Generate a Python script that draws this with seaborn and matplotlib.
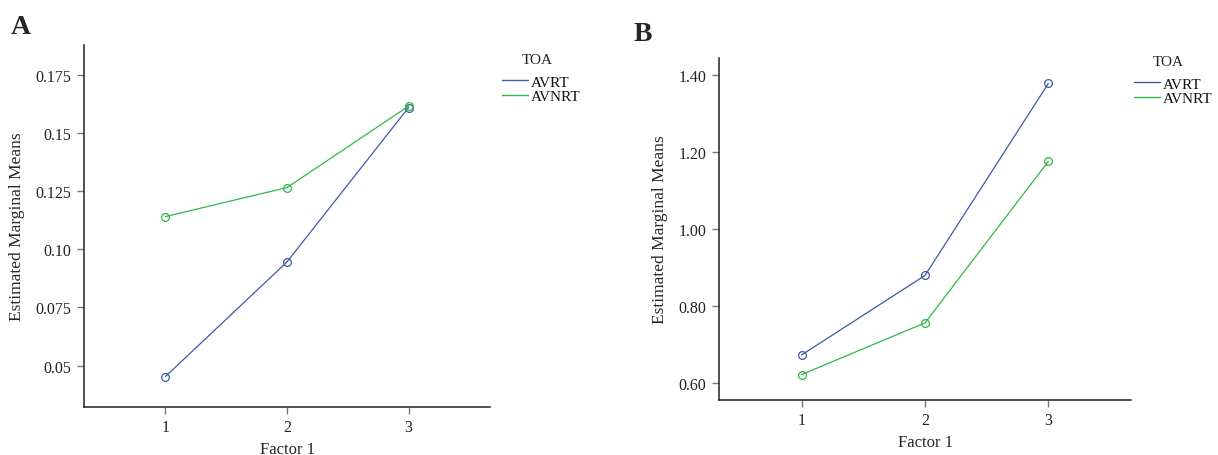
import matplotlib
matplotlib.use("Agg")
import matplotlib.pyplot as plt
from matplotlib.lines import Line2D
import seaborn as sns
import pandas as pd

# Estimated marginal means by Factor 1 level for each type of arrhythmia (TOA)
factor_levels = [1, 2, 3]
toa_groups = ["AVRT", "AVNRT"]

panel_a_avrt = [0.0453, 0.0946, 0.1610]
panel_a_avnrt = [0.1141, 0.1266, 0.1616]

panel_b_avrt = [0.674, 0.880, 1.378]
panel_b_avnrt = [0.623, 0.757, 1.176]

panel_a_yticks = [0.05, 0.075, 0.10, 0.125, 0.15, 0.175]
panel_a_yticklabels = ["0.05", "0.075", "0.10", "0.125", "0.15", "0.175"]
panel_b_yticks = [0.60, 0.80, 1.00, 1.20, 1.40]
panel_b_yticklabels = ["0.60", "0.80", "1.00", "1.20", "1.40"]

colors = {"AVRT": "#3E58AC", "AVNRT": "#2EB848"}

sns.set_style("white")
plt.rcParams["font.family"] = ["Liberation Serif", "DejaVu Serif"]
plt.rcParams["font.size"] = 11.5

W, H = 1218, 456
fig = plt.figure(figsize=(W / 100, H / 100), dpi=100)


def frac_box(left, top, right, bottom):
    return [left / W, 1 - bottom / H, (right - left) / W, (bottom - top) / H]


def build_frame(avrt, avnrt):
    return pd.DataFrame({
        "Factor 1": factor_levels * 2,
        "mean": list(avrt) + list(avnrt),
        "TOA": ["AVRT"] * 3 + ["AVNRT"] * 3,
    })


def draw_panel(ax, df, ylim, yticks, yticklabels):
    for grp in toa_groups:
        sub = df[df["TOA"] == grp]
        c = colors[grp]
        sns.lineplot(data=sub, x="Factor 1", y="mean", ax=ax, color=c,
                     linewidth=0.9, marker="o", markersize=5.6,
                     markerfacecolor="none", markeredgecolor=c,
                     markeredgewidth=0.9, legend=False)
    ax.set_xlim(0.33, 3.67)
    ax.set_ylim(*ylim)
    ax.set_xticks(factor_levels)
    ax.set_xticklabels([str(v) for v in factor_levels])
    ax.set_yticks(yticks)
    ax.set_yticklabels(yticklabels)
    ax.set_xlabel("Factor 1", fontsize=12, labelpad=4)
    ax.set_ylabel("Estimated Marginal Means", fontsize=12.5, labelpad=8)
    sns.despine(ax=ax)
    for s in ("left", "bottom"):
        ax.spines[s].set_color("#222222")
        ax.spines[s].set_linewidth(1.1)
    ax.tick_params(axis="both", direction="out", length=5, width=1,
                   color="#777777", labelsize=11.5, labelcolor="#222222",
                   left=True, bottom=True, pad=4)


def add_legend(ax, line_x, first_row_y, title_cx, title_cy):
    handles = [Line2D([0], [0], color=colors[g], linewidth=1.0) for g in toa_groups]
    leg = ax.legend(handles, toa_groups, frameon=False,
                    loc="upper left",
                    bbox_to_anchor=(line_x / W, 1 - (first_row_y - 7.5) / H),
                    bbox_transform=fig.transFigure, borderpad=0,
                    handlelength=1.7, handletextpad=0.2, labelspacing=0.05,
                    fontsize=11)
    for t in leg.get_texts():
        t.set_color("#111111")
    fig.text(title_cx / W, 1 - title_cy / H, "TOA", fontsize=11,
             color="#222222", ha="center", va="center")


ax_a = fig.add_axes(frac_box(84, 46, 490, 408))
draw_panel(ax_a, build_frame(panel_a_avrt, panel_a_avnrt),
           (0.0322, 0.1879), panel_a_yticks, panel_a_yticklabels)
add_legend(ax_a, 494, 76, 537, 60)

ax_b = fig.add_axes(frac_box(719, 59, 1131, 401))
draw_panel(ax_b, build_frame(panel_b_avrt, panel_b_avnrt),
           (0.557, 1.444), panel_b_yticks, panel_b_yticklabels)
add_legend(ax_b, 1126, 78, 1168, 63)

fig.text(21 / W, 1 - 27.5 / H, "A", fontsize=20, fontweight="bold",
         ha="center", va="center")
fig.text(643 / W, 1 - 34.5 / H, "B", fontsize=20, fontweight="bold",
         ha="center", va="center")

fig.savefig("out.png", dpi=100)
